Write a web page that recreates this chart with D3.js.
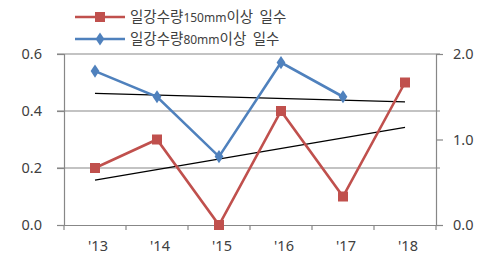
<!DOCTYPE html>
<html><head><meta charset="utf-8">
<script src="https://cdn.jsdelivr.net/npm/d3@7"></script>
<style>body{margin:0;background:#fff}svg{display:block}</style>
</head><body><svg id="c" width="490" height="259"></svg>
<script>
const categories = ["'13","'14","'15","'16","'17","'18"];
const heavy150 = [0.2, 0.3, 0.0, 0.4, 0.1, 0.5];
const heavy80 = [1.8, 1.5, 0.8, 1.9, 1.5, null];
const leftTicks = [0.0, 0.2, 0.4, 0.6];
const rightTicks = [0.0, 1.0, 2.0];
const seriesNames = ["일강수량150mm이상 일수", "일강수량80mm이상 일수"];

const svg = d3.select("#c");
const L = 64, R = 436, T = 54, B = 225;
const x = d3.scaleBand().domain(categories).range([L, R]);
const cx = c => x(c) + x.bandwidth()/2;
const yL = d3.scaleLinear().domain([0, 0.6]).range([B, T]);
const yR = d3.scaleLinear().domain([0, 2.0]).range([B, T]);
const red = "#c0504d", blue = "#4f81bd", grid = "#878787", txt = "#404040";
const font = "'Noto Sans', 'Open Sans', sans-serif";

// grid lines
svg.append("g").selectAll("line").data(leftTicks.filter(d=>d>0)).join("line")
  .attr("x1", L-7).attr("x2", R+4).attr("y1", d=>yL(d)).attr("y2", d=>yL(d))
  .attr("stroke", grid).attr("stroke-width", 1.2);

// left axis
const gl = svg.append("g").attr("transform", `translate(${L},0)`)
  .call(d3.axisLeft(yL).tickValues(leftTicks).tickFormat(d3.format(".1f")).tickSize(7).tickPadding(15));
gl.select(".domain").attr("stroke", grid).attr("stroke-width", 1.2);
gl.selectAll(".tick line").attr("stroke", grid).attr("stroke-width", 1.2);
gl.selectAll("text").attr("font-family", font).attr("font-size", 14.5).attr("fill", txt);

// right axis
const gr = svg.append("g").attr("transform", `translate(${R},0)`)
  .call(d3.axisRight(yR).tickValues(rightTicks).tickFormat(d3.format(".1f")).tickSize(7).tickPadding(10));
gr.select(".domain").attr("stroke", grid).attr("stroke-width", 1.2);
gr.selectAll(".tick line").attr("stroke", grid).attr("stroke-width", 1.2);
gr.selectAll("text").attr("font-family", font).attr("font-size", 14.5).attr("fill", txt);

// x axis
const gx = svg.append("g").attr("transform", `translate(0,${B})`)
  .call(d3.axisBottom(x).tickSize(0).tickPadding(16));
gx.select(".domain").attr("stroke", grid).attr("stroke-width", 1.2);
gx.selectAll("text").attr("font-family", font).attr("font-size", 14.5).attr("fill", txt).attr("dx", 3);
gx.append("g").selectAll("line").data(categories.concat(["end"])).join("line")
  .attr("x1", (d,i)=> i<categories.length ? x(d) : R).attr("x2", (d,i)=> i<categories.length ? x(d) : R)
  .attr("y1", 0).attr("y2", 5).attr("stroke", grid).attr("stroke-width", 1.2);

// trend lines (least squares)
function trend(vals){
  const pts = vals.map((v,i)=>[i,v]).filter(p=>p[1]!=null);
  const mx = d3.mean(pts,p=>p[0]), my = d3.mean(pts,p=>p[1]);
  const s = d3.sum(pts,p=>(p[0]-mx)*(p[1]-my))/d3.sum(pts,p=>(p[0]-mx)**2);
  return i => my + s*(i-mx);
}
const last = categories.length-1;
const t1 = trend(heavy150), t2 = trend(heavy80);
svg.append("line").attr("x1", cx(categories[0])).attr("x2", cx(categories[last]))
  .attr("y1", yL(t1(0))).attr("y2", yL(t1(last))).attr("stroke", "#000").attr("stroke-width", 1.3);
svg.append("line").attr("x1", cx(categories[0])).attr("x2", cx(categories[last]))
  .attr("y1", yR(t2(0))).attr("y2", yR(t2(last))).attr("stroke", "#000").attr("stroke-width", 1.3);

// series
const d1 = categories.map((c,i)=>({c, v: heavy150[i]}));
const d2 = categories.map((c,i)=>({c, v: heavy80[i]})).filter(d=>d.v!=null);
svg.append("path").datum(d2).attr("fill","none").attr("stroke", blue).attr("stroke-width", 2.6)
  .attr("d", d3.line().x(d=>cx(d.c)).y(d=>yR(d.v)));
svg.append("g").selectAll("path").data(d2).join("path")
  .attr("d", d3.symbol(d3.symbolDiamond, 50)())
  .attr("transform", d=>`translate(${cx(d.c)},${yR(d.v)}) scale(1.15,1)`).attr("fill", blue);
svg.append("path").datum(d1).attr("fill","none").attr("stroke", red).attr("stroke-width", 2.6)
  .attr("d", d3.line().x(d=>cx(d.c)).y(d=>yL(d.v)));
svg.append("g").selectAll("rect").data(d1).join("rect")
  .attr("x", d=>cx(d.c)-5).attr("y", d=>yL(d.v)-5).attr("width", 10).attr("height", 10).attr("fill", red);

// legend
const lg = svg.append("g");
[[red, 17, "sq"], [blue, 39, "di"]].forEach(([col, ly, m], i) => {
  lg.append("line").attr("x1", 75).attr("x2", 125).attr("y1", ly).attr("y2", ly).attr("stroke", col).attr("stroke-width", 2.6);
  if (m === "sq") lg.append("rect").attr("x", 95).attr("y", ly-5).attr("width", 10).attr("height", 10).attr("fill", col);
  else lg.append("path").attr("d", d3.symbol(d3.symbolDiamond, 50)()).attr("transform", `translate(100,${ly}) scale(1.15,1)`).attr("fill", col);
  const name = seriesNames[i];
  const mm = name.match(/^(\D+)(\d+mm)(.*)$/);
  const t = lg.append("text").attr("x", 130).attr("y", ly+5).attr("font-family", "'Noto Sans CJK KR', sans-serif")
    .attr("font-size", 14.5).attr("fill", txt);
  t.append("tspan").text(mm[1]);
  t.append("tspan").attr("font-size", 12).attr("font-family", font).text(mm[2]);
  t.append("tspan").text(mm[3].replace(" ", "\u00a0\u00a0"));
});
</script></body></html>
